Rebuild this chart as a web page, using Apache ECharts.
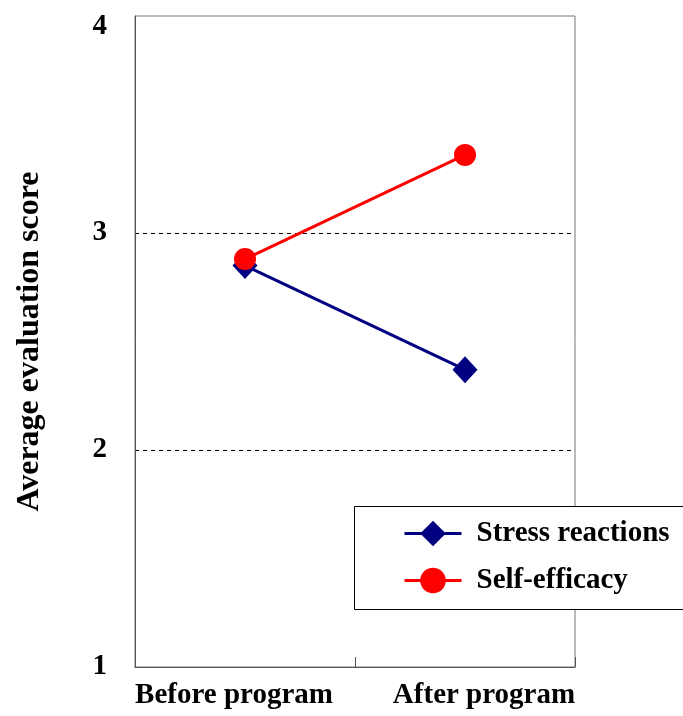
<!DOCTYPE html>
<html>
<head>
<meta charset="utf-8">
<script src="https://cdn.jsdelivr.net/npm/echarts@6/dist/echarts.min.js"></script>
<style>
  html, body { margin: 0; padding: 0; background: #fff; }
  #chart { width: 683px; height: 716px; }
</style>
</head>
<body>
<div id="chart"></div>
<script>
// Phases of the program
const categories = ['Before program', 'After program'];
// Average evaluation scores per phase
const stressReactions = [2.85, 2.37];
const selfEfficacy = [2.88, 3.36];
// Value axis ticks
const yTicks = [1, 2, 3, 4];

const serif = '"Liberation Serif", "Times New Roman", serif';
const labelFont = { color: '#000', fontFamily: serif, fontWeight: 'bold', fontSize: 29 };

const chart = echarts.init(document.getElementById('chart'), null, { renderer: 'canvas' });

chart.setOption({
  backgroundColor: '#ffffff',
  animation: false,
  grid: {
    left: 135, right: 108, top: 16, bottom: 49,
    show: true, borderColor: '#777', borderWidth: 1, backgroundColor: 'transparent'
  },
  xAxis: {
    type: 'category',
    data: [
      { value: categories[0], textStyle: { padding: [0, 22, 0, 0] } },
      { value: categories[1], textStyle: { padding: [0, 0, 0, 38] } }
    ],
    boundaryGap: true,
    axisLine: { lineStyle: { color: '#555', width: 1 } },
    axisTick: { show: true, inside: true, length: 10, lineStyle: { color: '#555' } },
    axisLabel: Object.assign({ interval: 0, hideOverlap: false, margin: 14 }, labelFont)
  },
  yAxis: {
    type: 'value',
    min: yTicks[0], max: yTicks[yTicks.length - 1], interval: 1,
    name: 'Average evaluation score',
    nameLocation: 'middle',
    nameGap: 89,
    nameTextStyle: { color: '#000', fontFamily: serif, fontWeight: 'bold', fontSize: 32 },
    axisLine: { show: true, lineStyle: { color: '#555', width: 1 } },
    axisTick: { show: false },
    axisLabel: Object.assign({
      margin: 28,
      // keep the top label clear of the page edge
      formatter: v => v === yTicks[yTicks.length - 1] ? '{top|' + v + '}' : String(v),
      rich: { top: Object.assign({ padding: [22, 0, 0, 0] }, labelFont) }
    }, labelFont),
    splitLine: {
      show: true, showMinLine: false, showMaxLine: false,
      lineStyle: { color: '#000', type: [4, 4], width: 1 }
    }
  },
  legend: {
    orient: 'vertical',
    left: 403, top: 519,
    padding: 0,
    itemWidth: 57, itemHeight: 32,
    itemGap: 18,
    z: 20,
    lineStyle: { width: 3 },
    textStyle: Object.assign({ padding: [0, 0, 0, 10] }, labelFont),
    data: ['Stress reactions', 'Self-efficacy']
  },
  graphic: [{
    type: 'rect',
    z: 10,
    shape: { x: 354.5, y: 506.5, width: 340, height: 103 },
    style: { fill: '#fff', stroke: '#000', lineWidth: 1 }
  }],
  series: [
    {
      name: 'Stress reactions',
      type: 'line',
      data: stressReactions,
      symbol: 'diamond',
      symbolSize: [25, 27],
      itemStyle: { color: '#000080' },
      lineStyle: { color: '#000080', width: 3 },
      z: 2
    },
    {
      name: 'Self-efficacy',
      type: 'line',
      data: selfEfficacy,
      symbol: 'circle',
      symbolSize: 22,
      itemStyle: { color: '#ff0000' },
      lineStyle: { color: '#ff0000', width: 3 },
      z: 3
    }
  ]
});
</script>
</body>
</html>
